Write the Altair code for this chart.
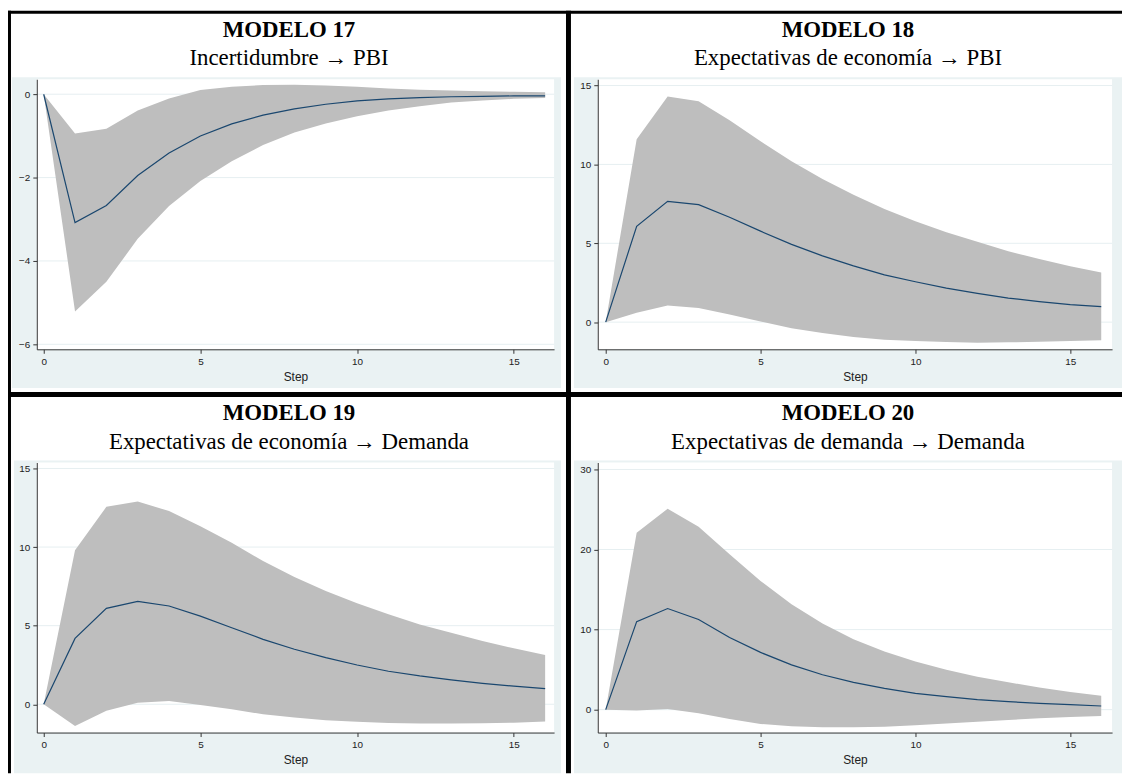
import altair as alt
import pandas as pd

steps = list(range(17))

# Modelo 17: Incertidumbre -> PBI
m17_irf = [0, -3.08, -2.67, -1.95, -1.41, -1.0, -0.71, -0.5, -0.35, -0.24, -0.16, -0.11, -0.08, -0.06, -0.05, -0.04, -0.04]
m17_hi = [0, -0.94, -0.83, -0.39, -0.1, 0.1, 0.18, 0.22, 0.23, 0.21, 0.18, 0.14, 0.11, 0.09, 0.07, 0.06, 0.05]
m17_lo = [0, -5.21, -4.5, -3.47, -2.68, -2.08, -1.61, -1.22, -0.92, -0.70, -0.53, -0.39, -0.29, -0.2, -0.15, -0.11, -0.09]

# Modelo 18: Expectativas de economía -> PBI
m18_irf = [0, 6.08, 7.66, 7.45, 6.65, 5.77, 4.93, 4.2, 3.57, 3.0, 2.56, 2.16, 1.83, 1.53, 1.3, 1.11, 0.99]
m18_hi = [0, 11.6, 14.3, 14.0, 12.8, 11.47, 10.2, 9.08, 8.08, 7.17, 6.4, 5.7, 5.1, 4.5, 4.0, 3.55, 3.15]
m18_lo = [0, 0.59, 1.05, 0.9, 0.48, 0.04, -0.38, -0.69, -0.94, -1.11, -1.2, -1.26, -1.3, -1.28, -1.24, -1.2, -1.15]

# Modelo 19: Expectativas de economía -> Demanda
m19_irf = [0, 4.19, 6.1, 6.55, 6.25, 5.61, 4.87, 4.13, 3.5, 2.97, 2.5, 2.1, 1.8, 1.55, 1.33, 1.15, 1.0]
m19_hi = [0, 9.8, 12.56, 12.9, 12.29, 11.33, 10.28, 9.11, 8.09, 7.2, 6.42, 5.72, 5.08, 4.55, 4.03, 3.56, 3.14]
m19_lo = [0, -1.38, -0.42, 0.1, 0.21, -0.04, -0.32, -0.64, -0.85, -1.02, -1.12, -1.19, -1.23, -1.23, -1.21, -1.17, -1.1]

# Modelo 20: Expectativas de demanda -> Demanda
m20_irf = [0, 11.0, 12.63, 11.26, 9.0, 7.15, 5.6, 4.36, 3.4, 2.66, 2.04, 1.62, 1.25, 1.0, 0.79, 0.62, 0.46]
m20_hi = [0, 22.1, 25.1, 22.85, 19.4, 16.08, 13.17, 10.76, 8.8, 7.27, 6.02, 4.99, 4.11, 3.41, 2.78, 2.2, 1.74]
m20_lo = [0, -0.12, 0.08, -0.46, -1.16, -1.79, -2.08, -2.2, -2.2, -2.12, -1.95, -1.74, -1.5, -1.29, -1.08, -0.91, -0.79]

titles = ["MODELO 17", "MODELO 18", "MODELO 19", "MODELO 20"]
subtitles = [
    "Incertidumbre \u2192 PBI",
    "Expectativas de economía \u2192 PBI",
    "Expectativas de economía \u2192 Demanda",
    "Expectativas de demanda \u2192 Demanda",
]
x_ticks = [0, 5, 10, 15]
y_ticks = [[0, -2, -4, -6], [0, 5, 10, 15], [0, 5, 10, 15], [0, 10, 20, 30]]
y_domains = [[-6.12, 0.36], [-1.72, 15.4], [-1.8, 15.38], [-2.86, 30.87]]

BG = "#EAF2F3"
GRID = "#E6EFF1"
GRAY = "#BEBEBE"
NAVY = "#1A476F"
AXIS = "#333333"
SERIF = "Liberation Serif, Times New Roman, serif"

W1, W2, H = 521, 518, 272
X_DOMAINS = [[-0.22, 16.285], [-0.256, 16.35]]


def one():
    return alt.Data(values=[{"a": 1}])


def rect(x, x2, y, y2, color):
    return alt.Chart(one()).mark_rect(color=color, strokeWidth=0).encode(
        x=alt.value(x), x2=alt.value(x2), y=alt.value(y), y2=alt.value(y2)
    )


def text(s, x, y, size, weight):
    return alt.Chart(one()).mark_text(
        text=s, font=SERIF, fontSize=size, fontWeight=weight,
        align="center", baseline="alphabetic", color="black"
    ).encode(x=alt.value(x), y=alt.value(y))


def panel(i, irf, lo, hi, width, xdom, region, title_x, borders):
    df = pd.DataFrame({"step": steps, "irf": irf, "lo": lo, "hi": hi})
    xsc = alt.Scale(domain=xdom, nice=False, zero=False)
    ysc = alt.Scale(domain=y_domains[i], nice=False, zero=False)
    xaxis = alt.Axis(
        values=x_ticks, format="d", title="Step", grid=False, zindex=1,
        domainColor=AXIS, tickColor=AXIS, tickSize=4, labelFont="Liberation Sans",
        labelFontSize=10, labelColor="#222", labelPadding=3, titleFont="Liberation Sans",
        titleFontSize=12, titleFontWeight="normal", titleColor="#222", titlePadding=5,
    )
    yaxis = alt.Axis(
        values=y_ticks[i], format="d", title=None, grid=False, zindex=1,
        domainColor=AXIS, tickColor=AXIS, tickSize=4, labelFont="Liberation Sans",
        labelFontSize=10, labelColor="#222", labelPadding=3,
    )
    layers = [rect(*region, BG), rect(0, width, 0, H, "white")]
    for b in borders:
        layers.append(rect(*b, "black"))
    layers.append(text(titles[i], title_x, -43, 23, "bold"))
    layers.append(text(subtitles[i], title_x, -14, 23, "normal"))
    grid = alt.Chart(pd.DataFrame({"lo": y_ticks[i]})).mark_rule(color=GRID, strokeWidth=1).encode(
        y=alt.Y("lo:Q", scale=ysc, axis=yaxis), x=alt.value(0), x2=alt.value(width)
    )
    area = alt.Chart(df).mark_area(color=GRAY, opacity=1).encode(
        x=alt.X("step:Q", scale=xsc, axis=xaxis),
        y=alt.Y("lo:Q", scale=ysc, axis=yaxis),
        y2="hi:Q",
    )
    line = alt.Chart(df).mark_line(color=NAVY, strokeWidth=1.2).encode(
        x=alt.X("step:Q", scale=xsc, axis=xaxis),
        y=alt.Y("irf:Q", scale=ysc, axis=yaxis),
    )
    layers += [grid, area, line]
    return alt.layer(*layers).properties(width=width, height=H)


# global borders drawn relative to panel 1 origin
borders1 = [
    (-29, -26, -69, 699),      # outer left
    (-29, 1093, -69, -66),     # outer top
    (533, 538, -69, 699),      # vertical divider
    (-29, 1093, 315, 320),     # horizontal divider
]

p1 = panel(0, m17_irf, m17_lo, m17_hi, W1, X_DOMAINS[0], (-25, 528, -2, 311), 254, borders1)
p2 = panel(1, m18_irf, m18_lo, m18_hi, W2, X_DOMAINS[1], (-24, 528, -2, 311), 252, [])
p3 = panel(2, m19_irf, m19_lo, m19_hi, W1, X_DOMAINS[0], (-23, 528, -2, 313), 254, [])
p4 = panel(3, m20_irf, m20_lo, m20_hi, W2, X_DOMAINS[1], (-24, 528, -2, 313), 252, [])

chart = alt.concat(
    p1, p2, p3, p4, columns=2,
    spacing=alt.RowColnumber(row=114, column=44),
    bounds="flush",
).properties(padding=0, background="white").configure_view(strokeWidth=0)

chart.save("out.html", embed_options={"renderer": "svg", "actions": False})
